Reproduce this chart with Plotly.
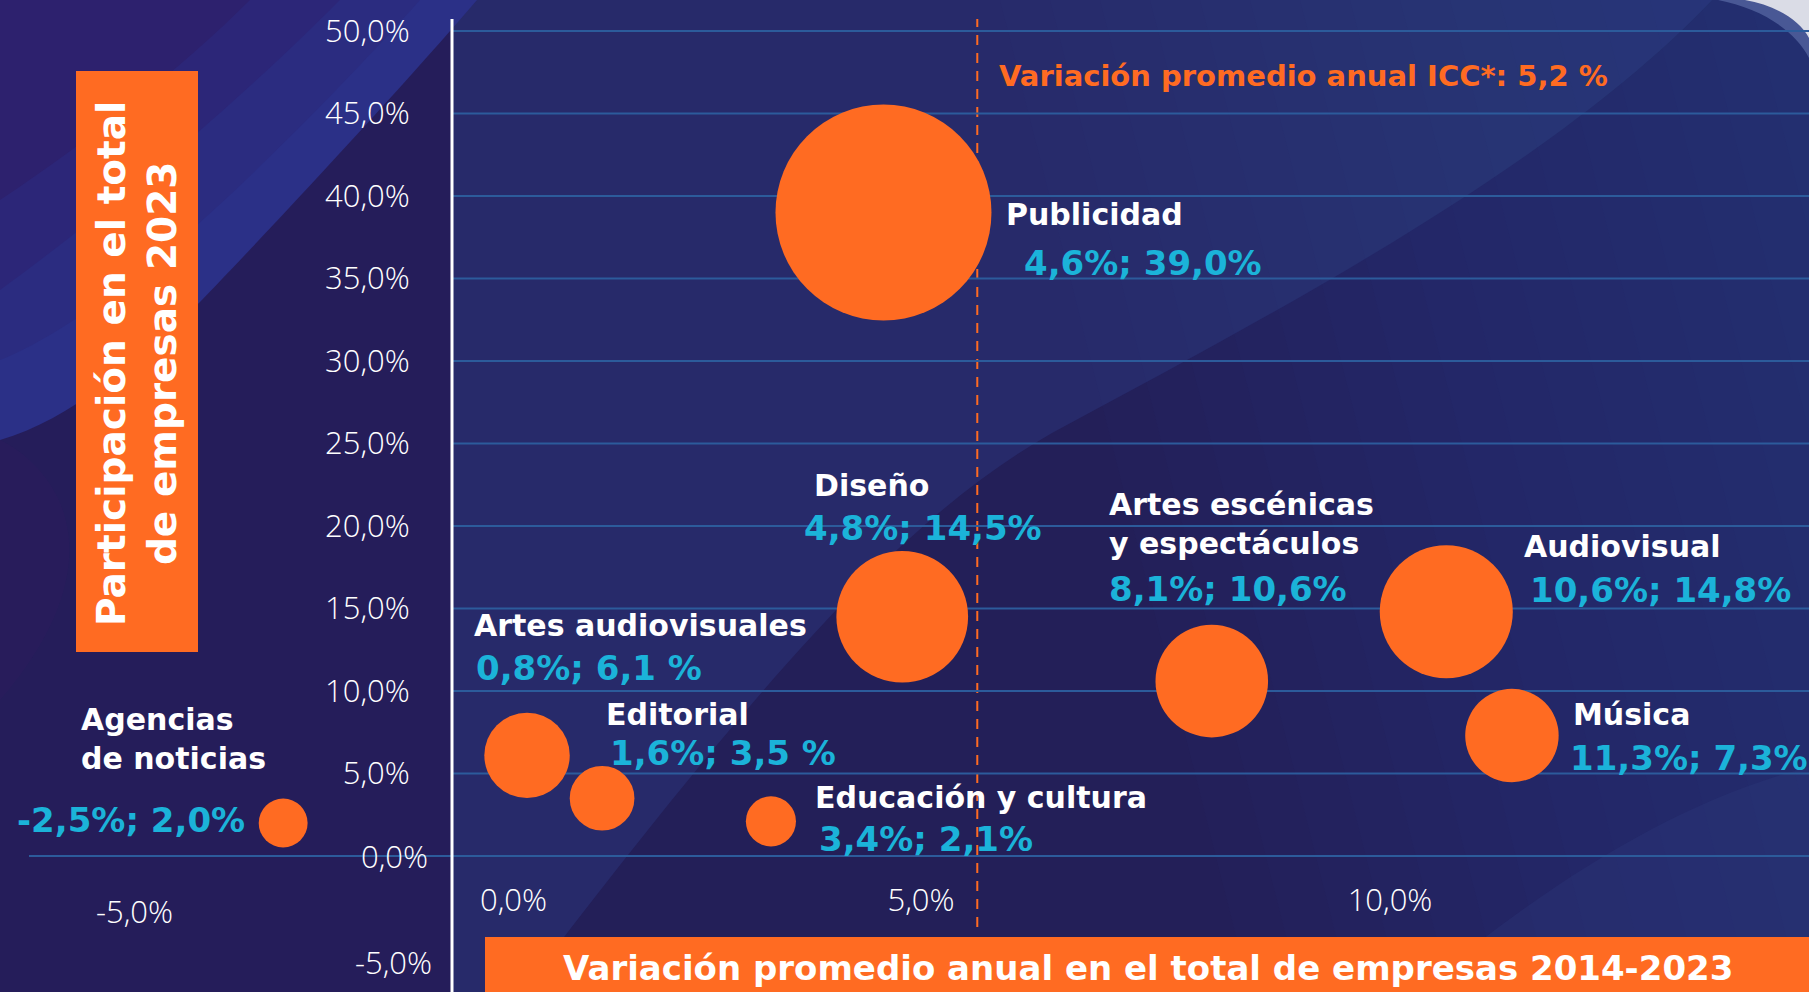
import plotly.graph_objects as go

# ---------------- data ----------------
categories = ["Publicidad", "Diseño", "Artes escénicas<br>y espectáculos", "Audiovisual", "Música",
              "Artes audiovisuales", "Editorial", "Educación y cultura", "Agencias<br>de noticias"]
variacion = [4.6, 4.8, 8.1, 10.6, 11.3, 0.8, 1.6, 3.4, -1.8]          # x (annual variation, %)
participacion = [39.0, 14.5, 10.6, 14.8, 7.3, 6.1, 3.5, 2.1, 2.0]       # y (share 2023, %)
value_labels = ["4,6%; 39,0%", "4,8%; 14,5%", "8,1%; 10,6%", "10,6%; 14,8%", "11,3%; 7,3%",
                "0,8%; 6,1 %", "1,6%; 3,5 %", "3,4%; 2,1%", "-2,5%; 2,0%"]
icc_variacion = 5.6
icc_label = "Variación promedio anual ICC*: 5,2 %"
y_tick_vals = [5, 10, 15, 20, 25, 30, 35, 40, 45, 50]
y_tick_text = ["5,0%", "10,0%", "15,0%", "20,0%", "25,0%", "30,0%", "35,0%", "40,0%", "45,0%", "50,0%"]
x_tick_vals = [5, 10]
x_tick_text = ["5,0%", "10,0%"]
x_title = "Variación promedio anual en el total de empresas 2014-2023"
y_title = "Participación en el total<br>de empresas 2023"

# ---------------- layout constants ----------------
W, H = 1809, 992
ORANGE = "#FF6B22"
CYAN = "#1BB3D9"
GRID = "#2C5B9B"
LABEL_FONT = "DejaVu Sans"

AXIS_PX = 452          # pixel position of the white vertical axis
PX_PER_X = 93.8
X_RANGE = [-AXIS_PX / PX_PER_X, (W - AXIS_PX) / PX_PER_X]
Y_DOM = [(H - 870) / H, 1.0]
Y_RANGE = [(856 - 870) / 16.5, 856 / 16.5]

# label offsets (px) relative to bubble centre: (xshift, yshift)
name_off = [(121, -2), (-90, 131), (-105, 157), (76, 65), (59, 21), (-55, 130), (2, 84), (42, 24), (-204, 84)]
value_off = [(139, -50), (-100, 89), (-105, 92), (82, 22), (56, -22), (-53, 87), (6, 45), (46, -18), (-36, 3)]
value_anchor = ["left"] * 8 + ["right"]


def px(x):
    return x / W


def py(y):
    return 1 - y / H


fig = go.Figure()

max_d = 216
fig.add_trace(go.Scatter(
    x=variacion, y=participacion, mode="markers",
    marker=dict(size=participacion, sizemode="area",
                sizeref=2 * max(participacion) / max_d ** 2,
                color=ORANGE, line=dict(width=0), opacity=1),
    cliponaxis=False, hoverinfo="skip", showlegend=False,
))

shapes = []


def P(a, b):
    return f"{px(a):.5f},{py(b):.5f}"


def bg(path, color):
    shapes.append(dict(type="path", xref="paper", yref="paper", path=path,
                       fillcolor=color, line=dict(width=0), layer="below"))


# ---------- background decoration ----------
bg(f"M{P(0,0)} L{P(W,0)} L{P(W,H)} L{P(0,H)} Z", "#231F58")
# lighter region above the main diagonal swoosh
bg(f"M{P(AXIS_PX,0)} L{P(1712,0)} C{P(1560,160)} {P(1300,300)} {P(1052,433)} "
   f"C{P(900,520)} {P(760,680)} {P(522,H)} L{P(AXIS_PX,H)} Z", "#272A6A")
# horizontal gradient towards the right edge
for i in range(16):
    x0 = 1000 + i * 50
    bg(f"M{P(x0,0)} L{P(W,0)} L{P(W,H)} L{P(x0 + 250,H)} Z", "rgba(40,80,150,0.04)")
# lower-right swoosh
bg(f"M{P(1417,H)} C{P(1550,880)} {P(1680,800)} {P(W,767)} L{P(W,H)} Z", "rgba(45,60,125,0.3)")
# top-right white glow
bg(f"M{P(1718,0)} C{P(1760,8)} {P(1795,30)} {P(W,58)} L{P(W,0)} Z", "rgba(120,140,195,0.45)")
bg(f"M{P(1745,0)} C{P(1775,5)} {P(1800,20)} {P(W,38)} L{P(W,0)} Z", "#DADCE6")
# left side panel
bg(f"M{P(0,0)} L{P(AXIS_PX,0)} L{P(AXIS_PX,H)} L{P(0,H)} Z", "#251D5A")
bg(f"M{P(0,440)} C{P(60,470)} {P(120,560)} {P(0,700)} Z", "rgba(50,25,95,0.3)")
bg(f"M{P(0,0)} L{P(477,0)} C{P(400,90)} {P(260,240)} {P(200,302)} C{P(140,360)} {P(70,420)} {P(0,440)} Z",
   "#2B3087")
bg(f"M{P(0,0)} L{P(420,0)} C{P(340,90)} {P(220,210)} {P(150,265)} C{P(100,305)} {P(40,345)} {P(0,360)} Z",
   "#2B2C80")
bg(f"M{P(0,0)} L{P(340,0)} C{P(260,80)} {P(150,180)} {P(0,290)} Z", "#2C2678")
bg(f"M{P(0,0)} L{P(250,0)} C{P(180,70)} {P(90,140)} {P(0,200)} Z", "#2D216E")

# gridlines (only to the right of the white axis, zero line extends left)
for v in y_tick_vals:
    shapes.append(dict(type="line", xref="x", yref="y", x0=0, x1=X_RANGE[1], y0=v, y1=v,
                       line=dict(color=GRID, width=2), layer="below"))
shapes.append(dict(type="line", xref="paper", yref="y", x0=px(29), x1=1, y0=0, y1=0,
                   line=dict(color=GRID, width=2), layer="below"))
# white vertical axis line
shapes.append(dict(type="line", xref="x", yref="paper", x0=0, x1=0, y0=0, y1=py(19),
                   line=dict(color="white", width=3)))
# ICC dashed reference line
shapes.append(dict(type="line", xref="x", yref="paper", x0=icc_variacion, x1=icc_variacion,
                   y0=py(927), y1=py(19), line=dict(color=ORANGE, width=2, dash="10px,8px"),
                   layer="below"))
# orange title boxes
shapes.append(dict(type="rect", xref="paper", yref="paper", x0=px(76), x1=px(198), y0=py(652), y1=py(71),
                   fillcolor=ORANGE, line=dict(width=0)))
shapes.append(dict(type="rect", xref="paper", yref="paper", x0=px(485), x1=1, y0=0, y1=py(937),
                   fillcolor=ORANGE, line=dict(width=0)))

annotations = []
# titles
annotations.append(dict(text=y_title, xref="paper", yref="paper", x=px(137), y=py(364),
                        textangle=-90, showarrow=False, xanchor="center", yanchor="middle",
                        font=dict(family=LABEL_FONT, size=39, color="white", weight="bold")))
annotations.append(dict(text=x_title, xref="paper", yref="paper", x=px(1148), y=py(968),
                        showarrow=False, xanchor="center", yanchor="middle",
                        font=dict(family=LABEL_FONT, size=34, color="white", weight="bold")))
annotations.append(dict(text=icc_label, xref="x", yref="paper", x=icc_variacion, xshift=20, y=py(76),
                        showarrow=False, xanchor="left", yanchor="middle",
                        font=dict(family=LABEL_FONT, size=29, color=ORANGE, weight="bold")))

# extra axis labels
tick_font = dict(family="Open Sans", size=31, color="white", weight=300)
annotations.append(dict(text="0,0%", xref="paper", yref="y", x=px(430), y=0, showarrow=False,
                        xanchor="right", yanchor="middle", font=tick_font))
annotations.append(dict(text="-5,0%", xref="paper", yref="paper", x=px(434), y=py(962), showarrow=False,
                        xanchor="right", yanchor="middle", font=tick_font))
annotations.append(dict(text="-5,0%", xref="paper", yref="paper", x=px(134), y=py(911), showarrow=False,
                        xanchor="center", yanchor="middle", font=tick_font))
annotations.append(dict(text="0,0%", xref="x", yref="paper", x=0, xshift=61, y=py(899), showarrow=False,
                        xanchor="center", yanchor="middle", font=tick_font))

# data labels
for i, cat in enumerate(categories):
    annotations.append(dict(text=cat, xref="x", yref="y", x=variacion[i], y=participacion[i],
                            xshift=name_off[i][0], yshift=name_off[i][1], showarrow=False,
                            xanchor="left", yanchor="middle", align="left",
                            font=dict(family=LABEL_FONT, size=30, color="white", weight="bold")))
    annotations.append(dict(text=value_labels[i], xref="x", yref="y", x=variacion[i], y=participacion[i],
                            xshift=value_off[i][0], yshift=value_off[i][1], showarrow=False,
                            xanchor=value_anchor[i], yanchor="middle",
                            font=dict(family=LABEL_FONT, size=34, color=CYAN, weight="bold")))

fig.update_layout(
    width=W, height=H, margin=dict(l=0, r=0, t=0, b=0),
    paper_bgcolor="#231F58", plot_bgcolor="rgba(0,0,0,0)",
    shapes=shapes, annotations=annotations, showlegend=False,
    xaxis=dict(domain=[0, 1], range=X_RANGE, tickvals=x_tick_vals, ticktext=x_tick_text,
               showgrid=False, zeroline=False, showline=False, ticks="outside", ticklen=3,
               tickcolor="rgba(0,0,0,0)", tickfont=tick_font, fixedrange=True),
    yaxis=dict(domain=Y_DOM, range=Y_RANGE, tickvals=y_tick_vals, ticktext=y_tick_text,
               anchor="free", position=AXIS_PX / W, side="left",
               showgrid=False, zeroline=False, showline=False, ticks="outside", ticklen=36,
               tickcolor="rgba(0,0,0,0)", tickfont=tick_font, fixedrange=True),
)

fig.write_html("out.html", config={"displayModeBar": False},
               post_script="document.body.style.margin='0';document.body.style.overflow='hidden';")
